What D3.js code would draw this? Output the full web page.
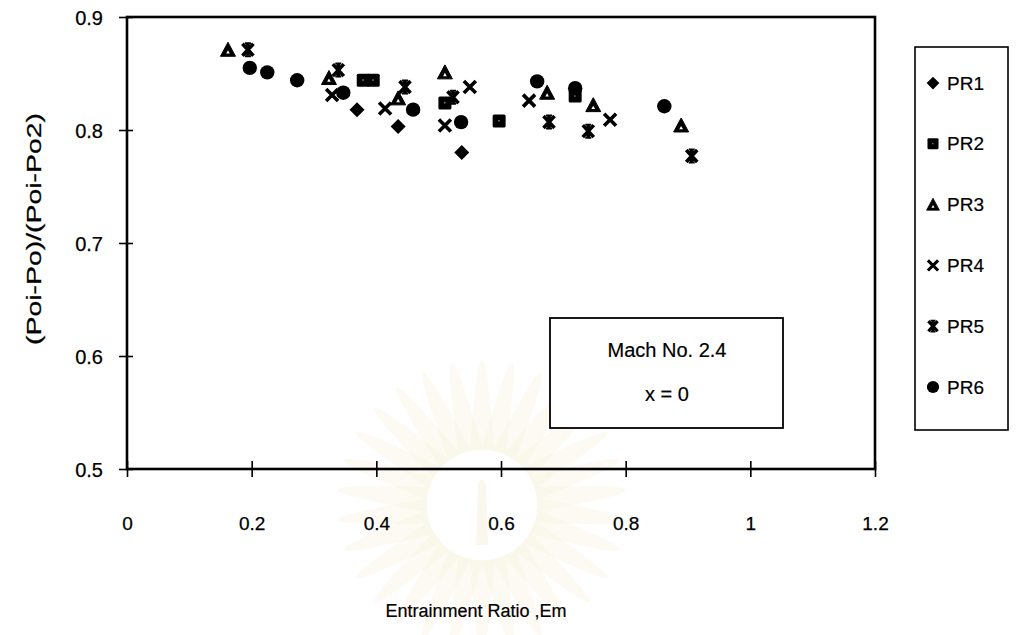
<!DOCTYPE html>
<html>
<head>
<meta charset="utf-8">
<script src="https://cdn.jsdelivr.net/npm/d3@7"></script>
<style>
  html, body { margin: 0; padding: 0; background: #fff; }
  svg { display: block; font-family: "Liberation Sans", Arial, sans-serif; }
</style>
</head>
<body>
<svg id="chart" width="1016" height="635"></svg>
<script>
// Entrainment ratio (x) and pressure ratio (y) for each probe
const PR1_x = [0.369, 0.435, 0.537];
const PR1_y = [0.818, 0.803, 0.780];
const PR2_x = [0.379, 0.395, 0.510, 0.597, 0.719];
const PR2_y = [0.844, 0.844, 0.824, 0.808, 0.830];
const PR3_x = [0.162, 0.324, 0.435, 0.510, 0.674, 0.748, 0.889];
const PR3_y = [0.871, 0.846, 0.828, 0.851, 0.833, 0.822, 0.804];
const PR4_x = [0.329, 0.414, 0.510, 0.550, 0.645, 0.775];
const PR4_y = [0.831, 0.819, 0.804, 0.838, 0.826, 0.809];
const PR5_x = [0.194, 0.339, 0.446, 0.523, 0.677, 0.740, 0.906];
const PR5_y = [0.871, 0.853, 0.838, 0.829, 0.807, 0.799, 0.777];
const PR6_x = [0.197, 0.225, 0.273, 0.347, 0.459, 0.536, 0.658, 0.719, 0.862];
const PR6_y = [0.855, 0.851, 0.844, 0.833, 0.818, 0.807, 0.843, 0.837, 0.821];

const seriesNames = ["PR1", "PR2", "PR3", "PR4", "PR5", "PR6"];
const seriesShapes = ["diamond", "square", "triangle", "cross", "star", "circle"];
const xTicks = [0, 0.2, 0.4, 0.6, 0.8, 1, 1.2];
const yTicks = [0.5, 0.6, 0.7, 0.8, 0.9];
const xTitle = "Entrainment Ratio ,Em";
const yTitle = "(Poi-Po)/(Poi-Po2)";
const noteLines = ["Mach No. 2.4", "x = 0"];

const seriesX = [PR1_x, PR2_x, PR3_x, PR4_x, PR5_x, PR6_x];
const seriesY = [PR1_y, PR2_y, PR3_y, PR4_y, PR5_y, PR6_y];
const series = seriesNames.map((name, i) => ({
  name,
  shape: seriesShapes[i],
  points: seriesX[i].map((xv, j) => ({ x: xv, y: seriesY[i][j] }))
}));

const svg = d3.select("#chart");
svg.append("rect").attr("width", 1016).attr("height", 635).attr("fill", "#fff");

// Very faint sunburst emblem printed behind the figure
const emblem = svg.append("g").attr("transform", "translate(482,505)");
d3.range(30).forEach(i => {
  const a = i * 360 / 30;
  emblem.append("path")
    .attr("d", "M-12,-55Q0,-235 12,-55Z")
    .attr("transform", `rotate(${a})`)
    .attr("fill", "#f6f0dc").attr("opacity", 0.35);
});
emblem.append("path").attr("d", "M-6,40L-4,-20Q0,-32 4,-20L6,40Z")
  .attr("fill", "#f3ecd6").attr("opacity", 0.4);

const plot = { left: 127, right: 875, top: 17, bottom: 469 };
const x = d3.scaleLinear().domain([0, 1.2]).range([plot.left, plot.right]);
const y = d3.scaleLinear().domain([0.5, 0.9]).range([plot.bottom, plot.top]);

// Marker glyphs, drawn centred on (0,0)
function drawMarker(g, shape) {
  const ink = "#000";
  if (shape === "diamond") {
    g.append("path").attr("d", "M0,-7.5L7.5,0L0,7.5L-7.5,0Z").attr("fill", ink);
  } else if (shape === "square") {
    g.append("rect").attr("x", -6.5).attr("y", -6.5).attr("width", 13).attr("height", 13)
      .attr("rx", 1.5).attr("fill", ink);
    g.append("rect").attr("x", -1).attr("y", -1).attr("width", 1.6).attr("height", 1.6)
      .attr("fill", "#777");
  } else if (shape === "triangle") {
    g.append("path").attr("d", "M0,-7.5L7.5,6.5L-7.5,6.5Z").attr("fill", ink)
      .attr("stroke", ink).attr("stroke-width", 1).attr("stroke-linejoin", "round");
    g.append("path").attr("d", "M0,0.5L1.8,3.8L-1.8,3.8Z").attr("fill", "#fff");
  } else if (shape === "cross") {
    g.append("path").attr("d", "M-6,-6L6,6M6,-6L-6,6")
      .attr("stroke", ink).attr("stroke-width", 3.6).attr("fill", "none");
  } else if (shape === "star") {
    g.append("path").attr("d", "M-5.5,-6L5.5,6M5.5,-6L-5.5,6M0,-6L0,6")
      .attr("stroke", ink).attr("stroke-width", 3.6).attr("fill", "none");
    g.append("path").attr("d", "M-3,-6.5L3,-6.5M-3,6.5L3,6.5")
      .attr("stroke", ink).attr("stroke-width", 2).attr("fill", "none");
  } else if (shape === "circle") {
    g.append("circle").attr("r", 7.2).attr("fill", ink);
  }
}

// Axes with ticks crossing the frame lines
const xAxis = d3.axisBottom(x).tickValues(xTicks).tickSize(8).tickFormat(d3.format("~g"));
const gx = svg.append("g").attr("transform", `translate(0,${plot.bottom})`).call(xAxis);
gx.select(".domain").remove();
gx.selectAll(".tick line").attr("y1", -8).attr("stroke", "#000").attr("stroke-width", 1.6);
gx.selectAll(".tick text").attr("y", 61).attr("dy", 0)
  .attr("font-size", 19).attr("fill", "#000")
  .attr("stroke", "#000").attr("stroke-width", 0.25)
  .attr("font-family", "Liberation Sans, Arial, sans-serif");

const yAxis = d3.axisLeft(y).tickValues(yTicks).tickSize(8).tickFormat(d3.format(".1f"));
const gy = svg.append("g").attr("transform", `translate(${plot.left},0)`).call(yAxis);
gy.select(".domain").remove();
gy.selectAll(".tick line").attr("x1", 6).attr("stroke", "#000").attr("stroke-width", 1.6);
gy.selectAll(".tick text").attr("x", -24).attr("dy", "0.36em")
  .attr("font-size", 20).attr("fill", "#000")
  .attr("stroke", "#000").attr("stroke-width", 0.25)
  .attr("font-family", "Liberation Sans, Arial, sans-serif");

// Plot frame
svg.append("rect")
  .attr("x", plot.left).attr("y", plot.top)
  .attr("width", plot.right - plot.left).attr("height", plot.bottom - plot.top)
  .attr("fill", "none").attr("stroke", "#000").attr("stroke-width", 2.6);

// Axis titles
svg.append("text")
  .attr("transform", `translate(41,229) rotate(-90)`)
  .attr("text-anchor", "middle").attr("font-size", 21).attr("fill", "#000")
  .attr("stroke", "#000").attr("stroke-width", 0.25)
  .attr("textLength", 232).attr("lengthAdjust", "spacingAndGlyphs")
  .text(yTitle);
svg.append("text")
  .attr("x", 476).attr("y", 617)
  .attr("text-anchor", "middle").attr("font-size", 18).attr("fill", "#000")
  .attr("stroke", "#000").attr("stroke-width", 0.2)
  .text(xTitle);

// Annotation box
const note = svg.append("g");
note.append("rect").attr("x", 550).attr("y", 318).attr("width", 233).attr("height", 110)
  .attr("fill", "#fff").attr("stroke", "#000").attr("stroke-width", 1.8);
note.selectAll("text").data(noteLines).join("text")
  .attr("x", 667).attr("y", (d, i) => 357 + i * 44)
  .attr("text-anchor", "middle").attr("font-size", 20).attr("fill", "#000")
  .attr("stroke", "#000").attr("stroke-width", 0.2)
  .text(d => d);

// Data points
series.forEach(s => {
  const g = svg.append("g").attr("class", "series-" + s.name);
  g.selectAll("g").data(s.points).join("g")
    .attr("transform", d => `translate(${x(d.x)},${y(d.y)})`)
    .each(function () { drawMarker(d3.select(this), s.shape); });
});

// Legend
const legend = svg.append("g");
legend.append("rect").attr("x", 915).attr("y", 47).attr("width", 93).attr("height", 383)
  .attr("fill", "#fff").attr("stroke", "#000").attr("stroke-width", 1.6);
const legendY = d3.scalePoint().domain(seriesNames).range([83, 387]);
series.forEach(s => {
  const row = legend.append("g").attr("transform", `translate(933,${legendY(s.name)})`);
  const m = row.append("g").attr("transform", "scale(0.85)");
  drawMarker(m, s.shape);
  row.append("text").attr("x", 14).attr("dy", "0.35em")
    .attr("font-size", 19).attr("fill", "#000")
    .attr("stroke", "#000").attr("stroke-width", 0.2).text(s.name);
});
</script>
</body>
</html>
